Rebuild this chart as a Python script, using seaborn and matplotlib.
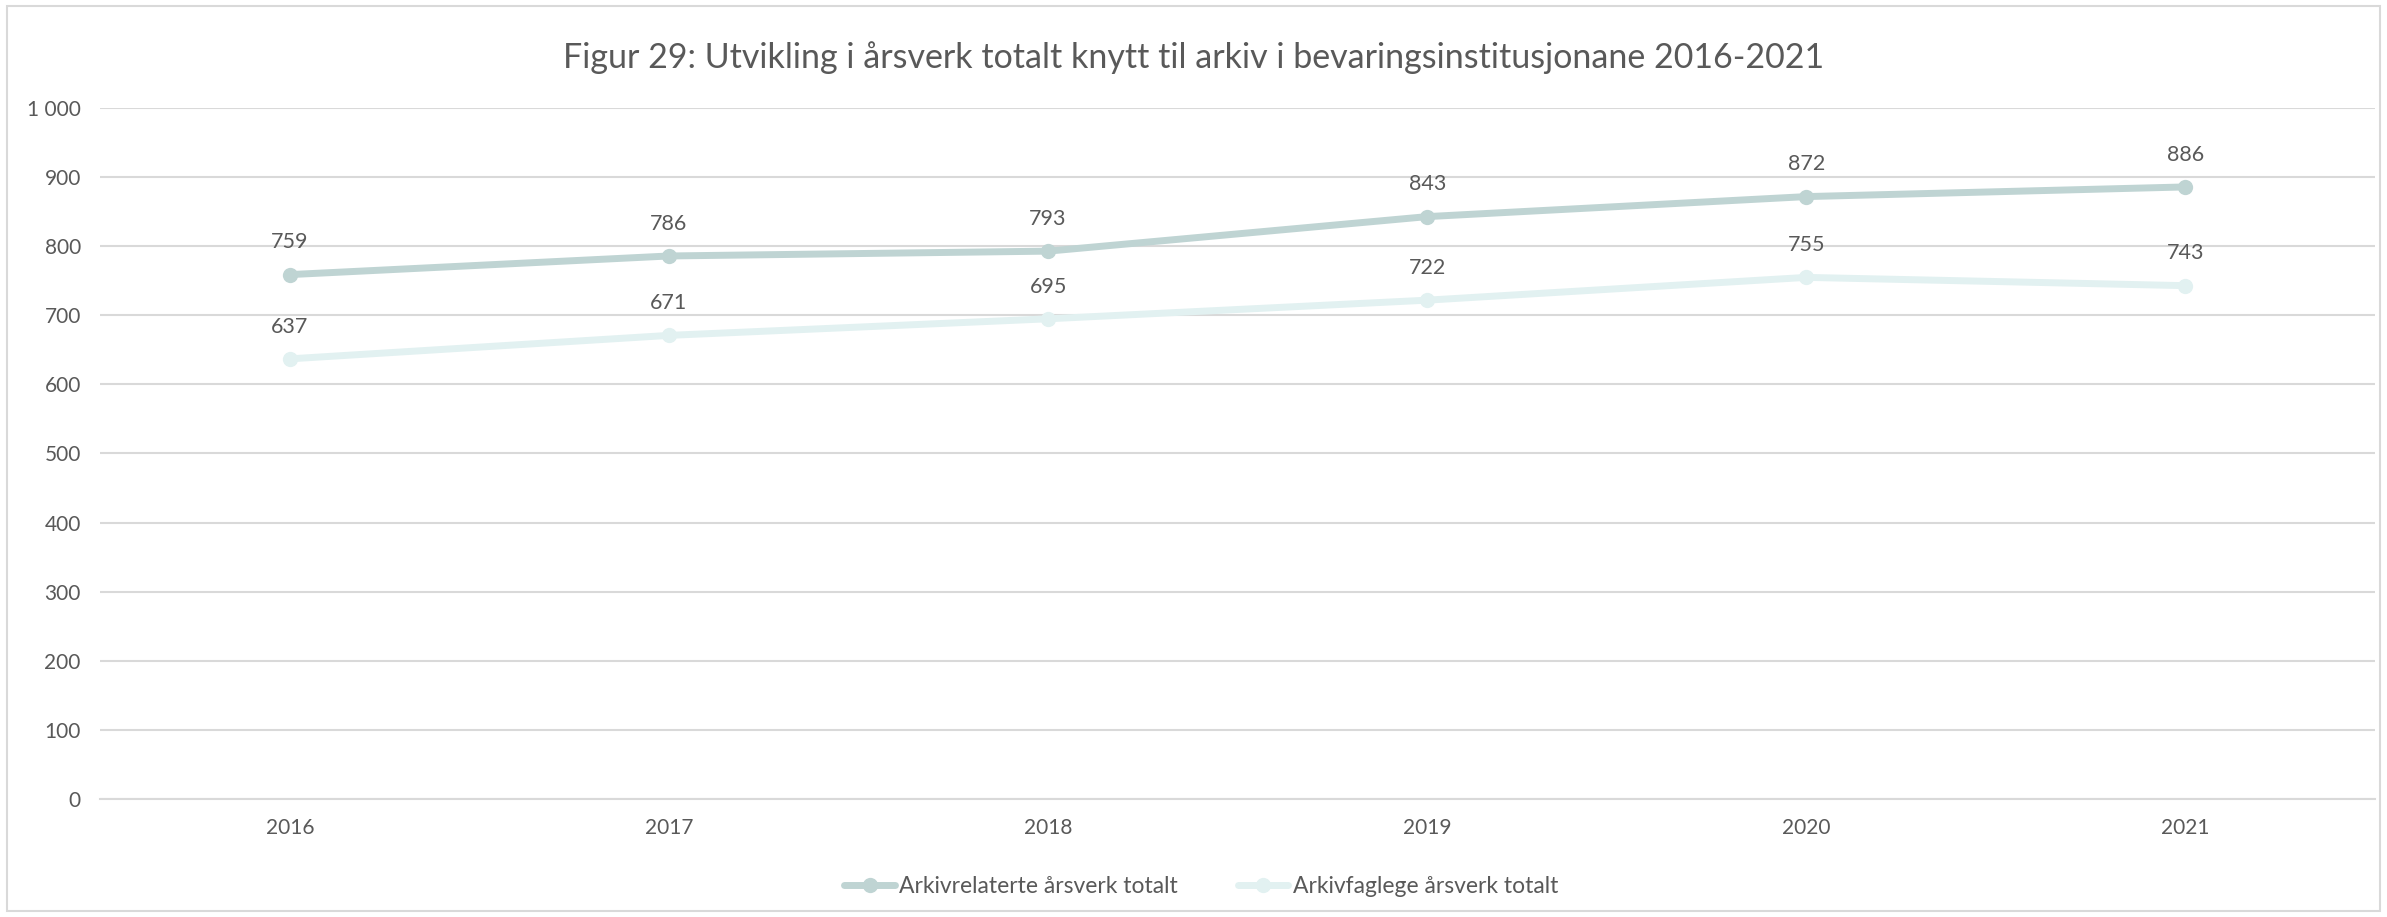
import pandas as pd
import numpy as np
import matplotlib.pyplot as plt
import seaborn as sns
from matplotlib.patches import Rectangle
from matplotlib.ticker import FuncFormatter

years = ['2016', '2017', '2018', '2019', '2020', '2021']
arkivrelaterte = [759, 786, 793, 843, 872, 886]
arkivfaglege = [637, 671, 695, 722, 755, 743]
series_names = ['Arkivrelaterte årsverk totalt', 'Arkivfaglege årsverk totalt']
colors = ['#BFD4D3', '#E2F1F1']

df = pd.DataFrame({
    'år': years * 2,
    'årsverk': arkivrelaterte + arkivfaglege,
    'serie': [series_names[0]] * 6 + [series_names[1]] * 6,
})

sns.set_theme(style='white')
plt.rcParams['font.family'] = ['Lato', 'DejaVu Sans']
text_col = '#595959'

fig = plt.figure(figsize=(23.87, 9.17), dpi=100)
ax = fig.add_axes([0.042, 0.129, 0.953, 0.753])

sns.lineplot(data=df, x='år', y='årsverk', hue='serie', palette=colors,
             marker='o', markersize=11, markeredgewidth=0, linewidth=5,
             sort=False, ax=ax, legend=True)

for vals in [arkivrelaterte, arkivfaglege]:
    for i, v in enumerate(vals):
        ax.annotate(f'{v}', (i, v), xytext=(0, 16), textcoords='offset points',
                    ha='center', va='bottom', fontsize=15.5, color=text_col)

ax.set_xlim(-0.5, 5.5)
ax.set_ylim(0, 1000)
ax.set_yticks(np.arange(0, 1001, 100))
ax.yaxis.set_major_formatter(FuncFormatter(lambda v, p: f'{int(v):,}'.replace(',', ' ')))
ax.grid(axis='y', color='#D9D9D9', linewidth=1.5)
ax.grid(axis='x', visible=False)
for s in ['top', 'right', 'left']:
    ax.spines[s].set_visible(False)
ax.spines['bottom'].set_color('#D9D9D9')
ax.spines['bottom'].set_linewidth(1.5)
ax.tick_params(axis='both', labelsize=15, colors=text_col, length=0, pad=14)
ax.set_xlabel('')
ax.set_ylabel('')

leg = ax.legend(loc='upper center', bbox_to_anchor=(0.5 - 0.042 / 2 + 0.005, -0.082), ncol=2,
                frameon=False, fontsize=16.5, handlelength=2.2, columnspacing=2.6,
                handletextpad=0.2)
for t in leg.get_texts():
    t.set_color(text_col)

fig.text(0.5, 0.937, 'Figur 29: Utvikling i årsverk totalt knytt til arkiv i bevaringsinstitusjonane 2016-2021',
         ha='center', va='center', fontsize=24.5, color=text_col)

fig.patches.append(Rectangle((0.003, 0.006), 0.994, 0.988, transform=fig.transFigure,
                             fill=False, edgecolor='#D9D9D9', linewidth=1.5))

fig.savefig('out.png', dpi=100)
